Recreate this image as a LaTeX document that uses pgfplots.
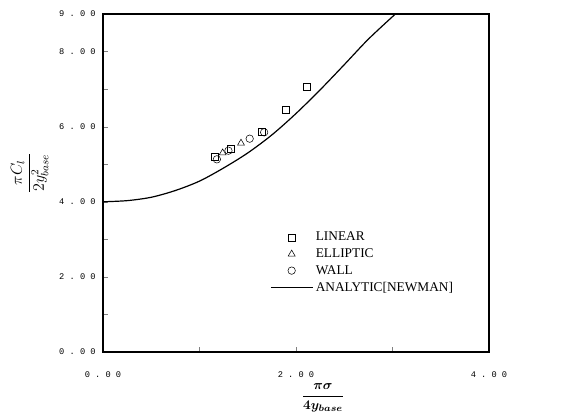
\documentclass[border=0pt]{standalone}
\usepackage{amsmath,amssymb}
\usepackage{fontspec}
\setmainfont{Liberation Serif}
\setmonofont{Liberation Mono}
\usepackage{pgfplots}
\pgfplotsset{compat=1.18}
\pgfplotsset{longline/.style={legend image code/.code={\draw[##1] (-0.25cm,0cm) -- (0.85cm,0cm);}}}
\begin{document}
\begin{tikzpicture}
\begin{axis}[
  scale only axis,
  width=289.5pt, height=253.5pt,
  xmin=0, xmax=4, ymin=0, ymax=9,
  axis line style={line width=0.9pt},
  xtick={0,1,2,3,4},
  xticklabels={\texttt{0 . 0 0},,\texttt{2 . 0 0},,\texttt{4 . 0 0}},
  ytick={0,1,2,3,4,5,6,7,8,9},
  yticklabels={\texttt{0 . 0 0},,\texttt{2 . 0 0},,\texttt{4 . 0 0},,\texttt{6 . 0 0},,\texttt{8 . 0 0},\texttt{9 . 0 0}},
  tick label style={font=\fontsize{6.5}{7}\selectfont},
  xticklabel style={yshift=-11pt},
  yticklabel style={xshift=-2pt},
  tick align=inside,
  tick pos=left,
  major tick length=4pt,
  xlabel={$\boldsymbol{\dfrac{\pi\sigma}{4y_{base}}}$},
  xlabel style={at={(axis description cs:0.57,0)}, anchor=north, yshift=-20pt},
  ylabel={$\dfrac{\pi C_l}{2y^2_{base}}$},
  ylabel style={at={(axis description cs:-0.19,0.53)}, anchor=center, font=\large},
  legend style={draw=none, fill=none, at={(axis cs:1.73,3.27)}, anchor=north west,
    font=\fontsize{10}{11}\selectfont, row sep=0.3pt, inner sep=0pt},
  legend cell align=left,
]
\addplot[only marks, mark=square, mark size=2.6pt, black] coordinates {
  (1.16,5.20) (1.32,5.42) (1.65,5.87) (1.89,6.45) (2.11,7.07)
};
\addlegendentry{LINEAR}
\addplot[only marks, mark=triangle, mark size=3pt, black] coordinates {
  (1.24,5.30) (1.43,5.56)
};
\addlegendentry{ELLIPTIC}
\addplot[only marks, mark=o, mark size=2.8pt, black] coordinates {
  (1.18,5.13) (1.30,5.36) (1.52,5.68) (1.67,5.85)
};
\addlegendentry{WALL}
\addplot[black, line width=0.9pt, smooth, longline] coordinates {
  (0,4.00) (0.25,4.03) (0.5,4.12) (0.75,4.30) (1.0,4.55) (1.25,4.90) (1.5,5.30)
  (1.75,5.78) (2.0,6.35) (2.25,6.98) (2.5,7.65) (2.75,8.33) (3.03,9.00)
};
\addlegendentry{ANALYTIC[NEWMAN]}
\end{axis}
\path (current axis.south west) ++(-77.25pt,-50.25pt) coordinate (bl);
\path (current axis.north east) ++(66pt,10.5pt) coordinate (tr);
\pgfresetboundingbox
\useasboundingbox (bl) rectangle (tr);
\end{tikzpicture}
\end{document}
